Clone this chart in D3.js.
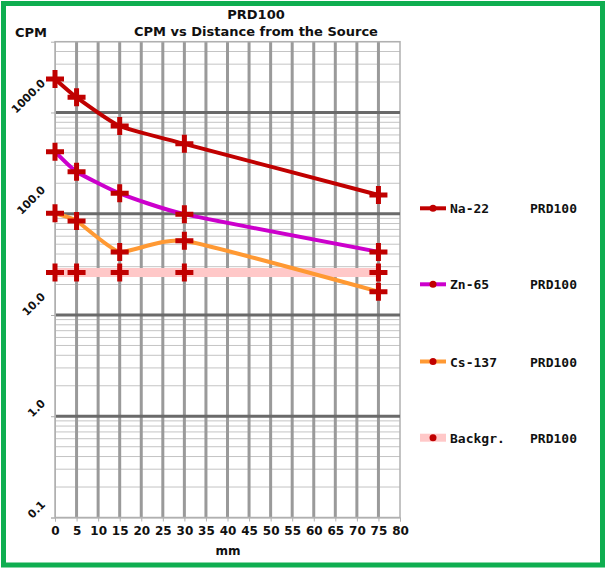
<!DOCTYPE html>
<html>
<head>
<meta charset="utf-8">
<script src="https://cdn.jsdelivr.net/npm/d3@7"></script>
<style>
  body { margin: 0; background: #fff; }
  svg { display: block; }
  text { font-family: "DejaVu Sans", sans-serif; font-weight: bold; fill: #111; }
</style>
</head>
<body>
<svg id="chart" width="606" height="568"></svg>
<script>
// chart values
const distances = [0, 5, 15, 30, 75];
const na22 = [2140, 1410, 735, 490, 153];
const zn65 = [410, 260, 159, 99, 42];
const cs137 = [101, 85, 42, 54, 17];
const backgr = [26.3, 26.3, 26.3, 26.3, 26.3];
const seriesNames = ["Na-22", "Zn-65", "Cs-137", "Backgr."];
const detectorName = "PRD100";
const xTickValues = [0, 5, 10, 15, 20, 25, 30, 35, 40, 45, 50, 55, 60, 65, 70, 75, 80];
const yTickValues = [0.1, 1, 10, 100, 1000];

const seriesColors = ["#c00000", "#cc00cc", "#ff9933", "#ffc8c8"];
const seriesWidths = [4, 4, 4, 9];
const markerColor = "#c00000";

const svg = d3.select("#chart");
const margin = {top: 41.7, left: 55, right: 206, bottom: 50.5};
const width = 606 - margin.left - margin.right,
      height = 568 - margin.top - margin.bottom;

const x = d3.scaleLinear().domain([0, 80]).range([margin.left, margin.left + width]);
const y = d3.scaleLog().domain([0.1, 5000]).range([margin.top + height, margin.top]);

// green frame
svg.append("rect")
    .attr("x", 3.5).attr("y", 3.5)
    .attr("width", 599).attr("height", 561.5)
    .attr("fill", "none")
    .attr("stroke", "#0fae50")
    .attr("stroke-width", 5);

// minor horizontal grid
const minor = [];
[0.1, 1, 10, 100, 1000].forEach(d => {
    for (let k = 2; k <= 9; k++) {
        const v = d * k;
        if (v <= 5000) minor.push(v);
    }
});
svg.append("g").selectAll("line").data(minor).join("line")
    .attr("x1", x(0)).attr("x2", x(80))
    .attr("y1", d => y(d)).attr("y2", d => y(d))
    .attr("stroke", "#c4c4c4").attr("stroke-width", 1);

// vertical grid
svg.append("g").selectAll("line").data(xTickValues.slice(1, -1)).join("line")
    .attr("x1", d => x(d)).attr("x2", d => x(d))
    .attr("y1", y(5000)).attr("y2", y(0.1))
    .attr("stroke", "#9a9a9a").attr("stroke-width", 3);

// plot frame
svg.append("rect")
    .attr("x", x(0)).attr("y", y(5000))
    .attr("width", x(80) - x(0)).attr("height", y(0.1) - y(5000))
    .attr("fill", "none").attr("stroke", "#b0b0b0").attr("stroke-width", 1.5);

// major horizontal grid
svg.append("g").selectAll("line").data(yTickValues.slice(1)).join("line")
    .attr("x1", x(0)).attr("x2", x(80))
    .attr("y1", d => y(d)).attr("y2", d => y(d))
    .attr("stroke", "#6a6a6a").attr("stroke-width", 3);

// y axis ticks + labels (rotated, bottom-left corner sitting at the tick)
const yAxis = svg.append("g")
    .attr("transform", `translate(${x(0)},0)`)
    .call(d3.axisLeft(y).tickValues(yTickValues).tickSize(4).tickFormat(d3.format(".1f")));
yAxis.select(".domain").attr("stroke", "#b0b0b0");
yAxis.selectAll(".tick line").attr("stroke", "#b0b0b0");
yAxis.selectAll(".tick text")
    .style("font-size", "11px").style("font-family", "DejaVu Sans").style("font-weight", "bold")
    .style("text-anchor", "start")
    .attr("fill", "#111")
    .attr("dy", 0)
    .each(function() {
        const len = this.getComputedTextLength();
        const x0 = -9 - len * 0.707;
        d3.select(this)
            .attr("x", 0).attr("y", 0)
            .attr("transform", `translate(${x0},1) rotate(-45)`);
    });

// x axis
const xAxis = svg.append("g")
    .attr("transform", `translate(0,${y(0.1)})`)
    .call(d3.axisBottom(x).tickValues(xTickValues).tickSize(4));
xAxis.select(".domain").attr("stroke", "#b0b0b0");
xAxis.selectAll(".tick line").attr("stroke", "#b0b0b0");
xAxis.selectAll(".tick text")
    .attr("y", 9)
    .style("font-size", "12px").style("font-family", "DejaVu Sans").style("font-weight", "bold")
    .attr("fill", "#111");

// titles
svg.append("text").attr("x", 256).attr("y", 19).attr("text-anchor", "middle")
    .style("font-size", "13px").text(detectorName);
svg.append("text").attr("x", 256).attr("y", 36).attr("text-anchor", "middle")
    .style("font-size", "13px").text("CPM vs Distance from the Source");
svg.append("text").attr("x", 15).attr("y", 37)
    .style("font-size", "13px").text("CPM");
svg.append("text").attr("x", 228).attr("y", 555).attr("text-anchor", "middle")
    .style("font-size", "12px").text("mm");

// series lines
const allSeries = [na22, zn65, cs137, backgr];
const line = d3.line()
    .x((d, i) => x(distances[i]))
    .y(d => y(d))
    .curve(d3.curveCardinal.tension(0.5));

const drawOrder = [3, 2, 1, 0];
drawOrder.forEach(s => {
    svg.append("path")
        .datum(allSeries[s])
        .attr("d", line)
        .attr("fill", "none")
        .attr("stroke", seriesColors[s])
        .attr("stroke-width", seriesWidths[s])
        .attr("stroke-linejoin", "round");
});

// plus markers
const plus = "M-9,-2.5H-2.5V-9H2.5V-2.5H9V2.5H2.5V9H-2.5V2.5H-9Z";
drawOrder.forEach(s => {
    svg.append("g").selectAll("path").data(allSeries[s]).join("path")
        .attr("transform", (d, i) => `translate(${x(distances[i])},${y(d)})`)
        .attr("d", plus)
        .attr("fill", markerColor);
});

// legend
const legendY = [208.3, 284.3, 361.5, 437.7];
seriesNames.forEach((name, i) => {
    const g = svg.append("g").attr("transform", `translate(420,${legendY[i]})`);
    g.append("line").attr("x1", 0).attr("x2", 26).attr("y1", 0).attr("y2", 0)
        .attr("stroke", seriesColors[i]).attr("stroke-width", i === 3 ? 8 : 4);
    g.append("circle").attr("cx", 13).attr("cy", 0).attr("r", 3.5).attr("fill", markerColor);
    g.append("text").attr("x", 30).attr("y", 5)
        .style("font-family", "DejaVu Sans Mono").style("font-size", "13px").text(name);
    g.append("text").attr("x", 110).attr("y", 5)
        .style("font-family", "DejaVu Sans Mono").style("font-size", "13px").text(detectorName);
});
</script>
</body>
</html>
